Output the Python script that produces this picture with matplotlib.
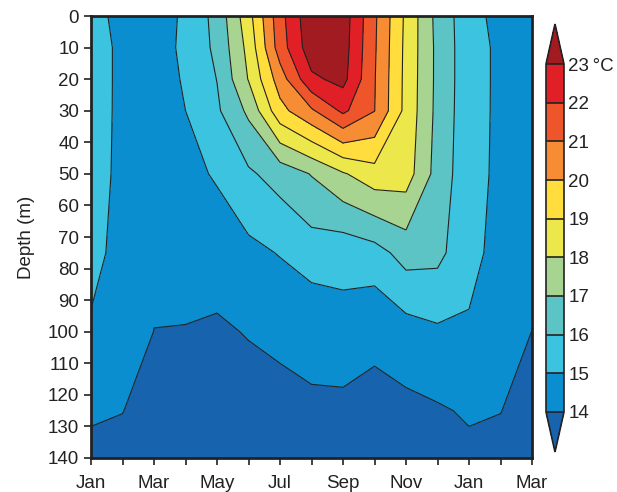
import numpy as np
import matplotlib
matplotlib.use("Agg")
import matplotlib.pyplot as plt

plt.rcParams['font.family'] = ['Liberation Sans', 'DejaVu Sans']

# monthly climatology, Jan..Dec (columns); the plot runs Jan -> Mar of next year
months = ["Jan", "Feb", "Mar", "Apr", "May", "Jun", "Jul", "Aug", "Sep", "Oct", "Nov", "Dec"]
depths = [0, 10, 20, 30, 50, 75, 100, 125, 150]

t_0m = [15.38, 14.67, 14.42, 15.20, 16.32, 18.63, 21.65, 23.77, 23.53, 21.17, 18.80, 16.68]
t_10m = [15.38, 14.82, 14.45, 15.25, 16.21, 18.30, 21.50, 23.60, 23.45, 21.12, 18.75, 16.75]
t_20m = [15.38, 14.82, 14.45, 15.12, 16.02, 18.05, 20.50, 22.80, 23.30, 21.06, 18.72, 16.75]
t_30m = [15.37, 14.82, 14.45, 15.00, 15.85, 17.20, 19.67, 20.85, 22.20, 21.02, 18.70, 16.72]
t_50m = [15.35, 14.80, 14.40, 14.70, 15.11, 15.85, 16.40, 17.05, 17.90, 18.60, 18.48, 16.60]
t_75m = [15.25, 14.72, 14.20, 14.30, 14.42, 14.75, 15.05, 15.50, 15.34, 15.60, 16.40, 16.28]
t_100m = [14.90, 14.55, 13.99, 13.97, 13.87, 14.05, 14.20, 14.18, 14.62, 14.17, 14.58, 14.85]
t_125m = [14.10, 14.02, 13.60, 13.60, 13.50, 13.60, 13.70, 13.91, 13.74, 13.78, 13.76, 13.90]
t_150m = [13.60, 13.50, 13.20, 13.20, 13.10, 13.20, 13.30, 13.50, 13.40, 13.40, 13.40, 13.50]

levels = [14, 15, 16, 17, 18, 19, 20, 21, 22, 23]
colors = ["#0B8ECF", "#3CC3E0", "#5DC4C5", "#A7D490", "#ECE84B",
          "#FEDD3C", "#F68D34", "#EF552A", "#E01F27"]
color_under = "#1763AE"
color_over = "#A21B21"

temp = np.array([t_0m, t_10m, t_20m, t_30m, t_50m, t_75m, t_100m, t_125m, t_150m])
# wrap around: Jan, Feb, Mar repeated at the end
temp = np.concatenate([temp, temp[:, :3]], axis=1)
x = np.arange(temp.shape[1])
labels = months + months[:3]

fig = plt.figure(figsize=(6.17, 4.92), dpi=100)
ax = fig.add_axes([91 / 617, 34 / 492, 441 / 617, 442 / 492])

cmap = matplotlib.colors.ListedColormap(colors)
cmap.set_under(color_under)
cmap.set_over(color_over)
norm = matplotlib.colors.BoundaryNorm(levels, cmap.N)

cf = ax.contourf(x, depths, temp, levels=levels, cmap=cmap, norm=norm, extend="both")
ax.contour(x, depths, temp, levels=levels, colors="#222222", linewidths=0.8)

ax.set_ylim(140, 0)
ax.set_xlim(0, 14)
ax.set_yticks(range(0, 141, 10))
ax.set_xticks(x)
ax.set_xticklabels([l if i % 2 == 0 else "" for i, l in enumerate(labels)])
ax.tick_params(direction="out", length=5, width=1.2, labelsize=13.5, color="#222222",
               labelcolor="#222222")
ax.tick_params(axis="x", pad=7)
ax.set_ylabel("Depth (m)", fontsize=13.5, color="#222222", labelpad=9)
for s in ax.spines.values():
    s.set_linewidth(2)
    s.set_color("#222222")

cax = fig.add_axes([546 / 617, 40 / 492, 18 / 617, 428 / 492])
cb = fig.colorbar(cf, cax=cax, ticks=levels, extendfrac=0.115, drawedges=True)
cb.ax.set_yticklabels([str(v) for v in levels[:-1]] + ["23\u2009°C"])
cb.ax.tick_params(length=0, labelsize=13.5, pad=3, labelcolor="#222222")
cb.outline.set_linewidth(1.2)
cb.outline.set_color("#222222")
cb.dividers.set_color("#222222")
cb.dividers.set_linewidth(1.2)

plt.savefig("out.png", dpi=100)
